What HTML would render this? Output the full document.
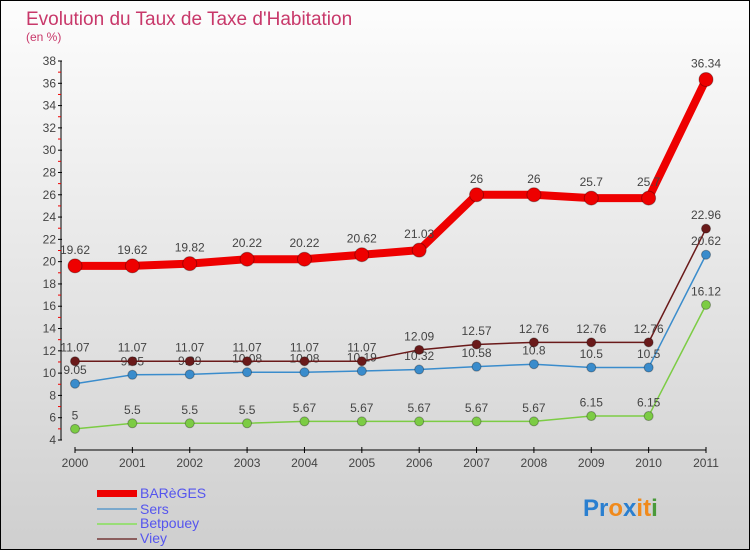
<!DOCTYPE html>
<html><head><meta charset="utf-8"><style>
body{margin:0}
#c{position:relative;width:748px;height:548px;border:1px solid #000;background:linear-gradient(#fdfdfd,#cfcfcf);font-family:"Liberation Sans",sans-serif;overflow:hidden}
</style></head><body>
<div id="c">
<svg id="s" width="748" height="548" xmlns="http://www.w3.org/2000/svg">
<text x="25" y="24" font-size="19" fill="#c8386a">Evolution du Taux de Taxe d'Habitation</text>
<text x="25" y="40" font-size="12" fill="#c8386a">(en %)</text>
<g id="axes"></g><g id="series"></g>
<g>
<rect x="96" y="489" width="40" height="7" fill="#e00"/>
<text x="139" y="497" font-size="14" fill="#5555ee">BARèGES</text>
<rect x="96" y="507" width="40" height="2" fill="#7aa8cc"/>
<text x="139" y="513" font-size="14" fill="#5555ee">Sers</text>
<rect x="96" y="522" width="40" height="2" fill="#99dd77"/>
<text x="139" y="527" font-size="14" fill="#5555ee">Betpouey</text>
<rect x="96" y="537" width="40" height="2" fill="#8b5e5e"/>
<text x="139" y="542" font-size="14" fill="#5555ee">Viey</text>
</g>
<text x="582" y="515" font-size="24" font-weight="bold"><tspan fill="#2a7fd0">Pr</tspan><tspan fill="#f08a1c">o</tspan><tspan fill="#2a7fd0">x</tspan><tspan fill="#f08a1c">i</tspan><tspan fill="#f08a1c">t</tspan><tspan fill="#4a9a3a">i</tspan></text>
</svg></div>
<script>
const years=[2000,2001,2002,2003,2004,2005,2006,2007,2008,2009,2010,2011];
const yTicks=[4,6,8,10,12,14,16,18,20,22,24,26,28,30,32,34,36,38];
const bareges=[19.62,19.62,19.82,20.22,20.22,20.62,21.03,26,26,25.7,25.7,36.34];
const sers=[9.05,9.85,9.89,10.08,10.08,10.19,10.32,10.58,10.8,10.5,10.5,20.62];
const betpouey=[5,5.5,5.5,5.5,5.67,5.67,5.67,5.67,5.67,6.15,6.15,16.12];
const viey=[11.07,11.07,11.07,11.07,11.07,11.07,12.09,12.57,12.76,12.76,12.76,22.96];
const NS="http://www.w3.org/2000/svg";
function X(i){return 74+i*(705-74)/(years.length-1);}
function Y(v){return 439-(v-4)*(439-60)/34;}
function mk(t,a,p){const e=document.createElementNS(NS,t);for(const k in a)e.setAttribute(k,a[k]);p.appendChild(e);return e;}
const ax=document.getElementById('axes');
let l=mk('line',{x1:60,y1:Y(38),x2:60,y2:Y(4),stroke:'#000'},ax);


l=mk('line',{x1:74,y1:449,x2:705,y2:449,stroke:'#000'},ax);


yTicks.forEach(v=>{
 let t=mk('line',{x1:57,y1:Y(v),x2:61,y2:Y(v),stroke:'#000'},ax);
 
 
 if(v<38){let r=mk('line',{x1:57,y1:Y(v+1),x2:60,y2:Y(v+1),stroke:'#e00'},ax);
 
 }
 let tx=mk('text',{x:55,y:Y(v)+4,'font-size':12,'text-anchor':'end',fill:'#444'},ax);tx.textContent=v;
 
 
});
years.forEach((y,i)=>{
 let t=mk('line',{x1:X(i),y1:446,x2:X(i),y2:452,stroke:'#000'},ax);
 
 
 let tx=mk('text',{x:X(i),y:466,'font-size':12,'text-anchor':'middle',fill:'#444'},ax);tx.textContent=y;
 
 
});
const sg=document.getElementById('series');
function draw(data,name,col,w,r){
 const g=mk('g',{},sg);
 
 
 const pl=mk('polyline',{points:data.map((v,i)=>X(i)+','+Y(v)).join(' '),fill:'none',stroke:col,'stroke-width':w},g);
 
 
 data.forEach((v,i)=>{
  const c=mk('circle',{cx:X(i),cy:Y(v),r:r,fill:col,stroke:'rgba(0,0,0,0.3)'},g);
  
  
  const t=mk('text',{x:X(i),y:Y(v)-r-5,'font-size':12,'text-anchor':'middle',fill:'#444'},g);
  t.textContent=v;
  
  
 });
}
draw(betpouey,'betpouey','#7ccc44',1.5,4.5);
draw(sers,'sers','#3a8ccc',1.5,4.5);
draw(viey,'viey','#6a1a1a',1.5,4.5);
draw(bareges,'bareges','#ee0000',8,7);
</script>
</body></html>
